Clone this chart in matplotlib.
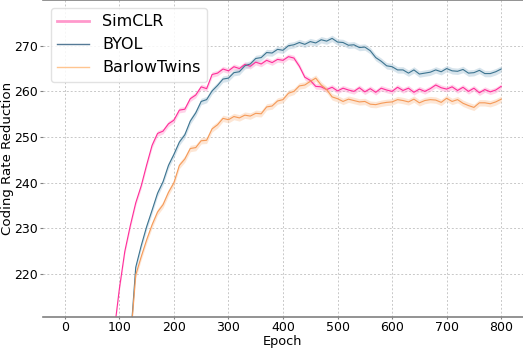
import matplotlib
matplotlib.use("Agg")
import matplotlib.pyplot as plt
import numpy as np

# ---------------- data ----------------
simclr_epochs = list(range(90, 801, 10))
simclr_values = [
    207.0, 216.8, 225.0, 230.6, 235.6, 239.3, 243.9, 248.2, 250.8, 251.3,
    252.9, 253.7, 255.9, 256.1, 258.4, 259.2, 261.0, 260.6, 263.7, 264.0,
    264.9, 264.5, 265.4, 265.0, 265.9, 265.5, 266.4, 266.0, 266.8, 266.3,
    267.0, 266.8, 267.6, 267.3, 265.5, 263.1, 262.4, 261.1, 261.0, 260.4,
    260.9, 260.1, 260.7, 260.3, 260.0, 260.8, 259.9, 260.6, 259.8, 260.7,
    260.3, 260.0, 260.9, 260.2, 260.7, 259.8, 260.5, 260.0, 260.6, 261.4,
    260.8, 260.5, 261.0, 260.2, 260.9, 260.0, 260.7, 259.7, 260.4, 259.9,
    260.3, 261.1,
]
simclr_band = 0.6

byol_epochs = list(range(120, 801, 10))
byol_values = [
    205.0, 221.5, 226.2, 230.4, 234.0, 237.7, 240.2, 243.8, 246.2, 248.9,
    250.5, 253.5, 255.3, 257.8, 258.2, 260.1, 261.3, 262.7, 262.9, 264.1,
    264.3, 265.6, 266.0, 267.2, 267.4, 268.5, 268.4, 269.2, 269.0, 270.0,
    270.2, 270.7, 270.3, 270.9, 270.6, 271.3, 271.0, 271.6, 270.8, 270.7,
    270.1, 270.2, 269.6, 269.7, 268.9, 267.4, 266.6, 265.6, 265.4, 264.7,
    264.7, 264.0, 264.7, 263.8, 264.0, 264.2, 264.7, 264.3, 265.0, 264.5,
    264.4, 264.8, 264.0, 264.1, 264.6, 263.9, 263.9, 264.3, 264.9,
]
byol_band = 0.7

barlow_epochs = list(range(120, 801, 10))
barlow_values = [
    205.0, 219.8, 223.8, 227.5, 230.8, 233.6, 235.2, 237.9, 240.0, 243.8,
    245.2, 247.5, 247.7, 249.2, 249.3, 251.8, 252.7, 254.1, 253.8, 254.5,
    254.2, 254.8, 254.6, 255.2, 255.1, 256.6, 256.8, 257.9, 258.2, 259.6,
    260.0, 261.2, 261.4, 262.2, 262.9, 261.4, 260.4, 258.8, 258.4, 257.8,
    258.3, 258.0, 257.7, 257.8, 257.2, 257.1, 257.4, 257.6, 257.7, 258.2,
    258.0, 257.7, 258.3, 257.5, 258.0, 258.2, 258.1, 257.6, 258.5, 257.8,
    258.2, 257.4, 256.9, 256.5, 257.5, 257.5, 257.3, 257.7, 258.3,
]
barlow_band = 0.7

labels = ["SimCLR", "BYOL", "BarlowTwins"]
x_ticks = [0, 100, 200, 300, 400, 500, 600, 700, 800]
y_ticks = [220, 230, 240, 250, 260, 270]

# ---------------- styling ----------------
line_colors = ["#ff2e9a", "#3d7490", "#f59a58"]
band_colors = ["#ff9fd0", "#a8c4d6", "#fbc9a2"]
legend_colors = ["#ff99cc", "#557a96", "#ffc590"]
legend_widths = [2.0, 1.0, 1.0]

fig = plt.figure(figsize=(5.23, 3.49), dpi=100)
ax = fig.add_axes([0.0822, 0.0926, 0.9178, 0.9074])

series = [
    (simclr_epochs, simclr_values, simclr_band),
    (byol_epochs, byol_values, byol_band),
    (barlow_epochs, barlow_values, barlow_band),
]
for (ep, val, band), lab, lc, bc in zip(series, labels, line_colors, band_colors):
    ep = np.array(ep)
    val = np.array(val)
    ax.fill_between(ep, val - band, val + band, color=bc, alpha=0.45, lw=0)
    ax.plot(ep, val, color=lc, lw=0.8, label=lab)

ax.set_xlim(-40, 840)
ax.set_ylim(210.7, 280)
ax.set_xticks(x_ticks)
ax.set_yticks(y_ticks)
ax.grid(True, color="#c8c8c8", linestyle=(0, (2, 2)), linewidth=0.7)
ax.set_axisbelow(True)

for side in ["left", "right"]:
    ax.spines[side].set_visible(False)
for side in ["top", "bottom"]:
    ax.spines[side].set_color("#808080")
    ax.spines[side].set_linewidth(1.2)

ax.tick_params(axis="both", labelsize=9, colors="#808080", labelcolor="black",
               width=0.8)
ax.tick_params(axis="x", length=1.5, pad=1.8)
ax.tick_params(axis="y", length=2.5, pad=1.0)
ax.set_xlabel("Epoch", fontsize=9.3, labelpad=0.3)
ax.set_ylabel("Coding Rate Reduction", fontsize=9.6, labelpad=0.5)

leg = ax.legend(loc="upper left", fontsize=11.5, frameon=True,
                edgecolor="#dddddd", framealpha=0.85, handlelength=2.0)
for h, c, w in zip(leg.get_lines(), legend_colors, legend_widths):
    h.set_color(c)
    h.set_linewidth(w)

fig.savefig("out.png", dpi=100)
